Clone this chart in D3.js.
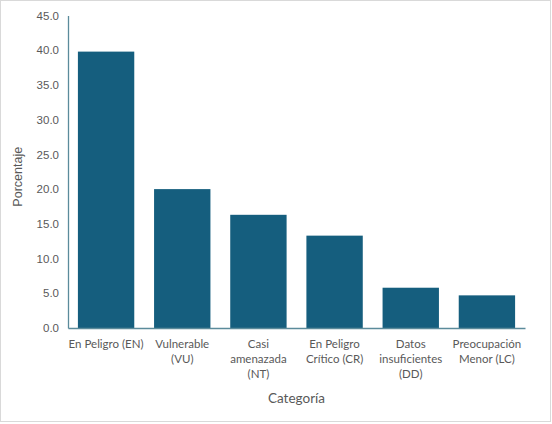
<!DOCTYPE html>
<html>
<head>
<meta charset="utf-8">
<script src="https://cdn.jsdelivr.net/npm/d3@7"></script>
<style>
  body { margin: 0; background: #fff; }
  svg { display: block; }
</style>
</head>
<body>
<svg id="chart" width="552" height="424"></svg>
<script>
// categories (multi-line labels) and percentages
const categories = [
  ["En Peligro (EN)"],
  ["Vulnerable", "(VU)"],
  ["Casi", "amenazada", "(NT)"],
  ["En Peligro", "Crítico (CR)"],
  ["Datos", "insuficientes", "(DD)"],
  ["Preocupación", "Menor (LC)"]
];
const percentages = [39.8, 20.0, 16.3, 13.3, 5.8, 4.7];
const yTicks = [0, 5, 10, 15, 20, 25, 30, 35, 40, 45];

let svg = d3.select("#chart");
let width = 552;
let height = 424;
let margin = { top: 15.5, right: 27, bottom: 96, left: 68 };
let plotW = width - margin.left - margin.right;
let plotH = height - margin.top - margin.bottom;

// outer border
svg.append("rect")
  .attr("x", 0.5).attr("y", 0.5)
  .attr("width", width - 2).attr("height", height - 3)
  .attr("fill", "#fff")
  .attr("stroke", "#d9d9d9");

let keys = categories.map(d => d.join(" "));
let xScale = d3.scaleBand()
  .domain(keys)
  .range([0, plotW])
  .paddingInner(0.26)
  .paddingOuter(0.13);
let yScale = d3.scaleLinear()
  .domain([0, 45])
  .range([plotH, 0]);

let g = svg.append("g")
  .attr("transform", "translate(" + margin.left + "," + margin.top + ")");

g.selectAll("rect.bar")
  .data(percentages)
  .enter().append("rect")
  .attr("class", "bar")
  .attr("x", (d, i) => xScale(keys[i]))
  .attr("y", d => yScale(d))
  .attr("width", xScale.bandwidth())
  .attr("height", d => plotH - yScale(d))
  .style("fill", "#155e7e");

// y axis
let yAxis = d3.axisLeft(yScale)
  .tickValues(yTicks)
  .tickFormat(d3.format(".1f"))
  .tickSize(0)
  .tickPadding(9);
let yG = g.append("g").call(yAxis);
yG.select(".domain").attr("stroke", "#5b8b9b").attr("stroke-width", 1.3);
yG.selectAll("text")
  .attr("fill", "#595959")
  .style("font-family", "Liberation Sans, Arial, sans-serif")
  .style("font-size", "11.5px");

// x axis
let xAxis = d3.axisBottom(xScale).tickSize(0).tickFormat("");
let xG = g.append("g")
  .attr("transform", "translate(0," + plotH + ")")
  .call(xAxis);
xG.select(".domain").attr("stroke", "#5b8b9b").attr("stroke-width", 1.3);

xG.selectAll(".tick").each(function (k, i) {
  let t = d3.select(this).append("text")
    .attr("fill", "#595959")
    .attr("text-anchor", "middle")
    .style("font-family", "Lato, Carlito, sans-serif")
    .style("font-size", "11.5px");
  categories[i].forEach((line, j) => {
    t.append("tspan")
      .attr("x", 0)
      .attr("y", 20 + j * 15)
      .text(line);
  });
});

// axis titles
svg.append("text")
  .attr("x", margin.left + plotW / 2)
  .attr("y", 403)
  .attr("text-anchor", "middle")
  .attr("fill", "#595959")
  .style("font-family", "Lato, Carlito, sans-serif")
  .style("font-size", "13.5px")
  .text("Categoría");

svg.append("text")
  .attr("transform", "translate(22," + (margin.top + plotH / 2 + 5) + ") rotate(-90)")
  .attr("text-anchor", "middle")
  .attr("fill", "#595959")
  .style("font-family", "Liberation Sans, Arial, sans-serif")
  .style("font-size", "12.5px")
  .text("Porcentaje");
</script>
</body>
</html>
